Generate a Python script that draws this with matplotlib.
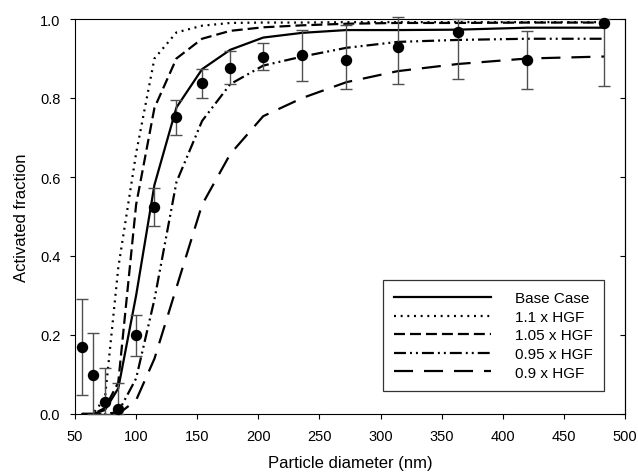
import matplotlib
matplotlib.use("Agg")
import matplotlib.pyplot as plt
import numpy as np

plt.rcParams['font.family'] = ['Liberation Sans', 'DejaVu Sans']
plt.rcParams['lines.scale_dashes'] = False

# Measured data
diam_obs = [56, 64.5, 74.5, 85.4, 100, 115, 133, 154, 177, 204, 236, 272, 314, 363, 420, 483]
af_obs = [0.170, 0.099, 0.030, 0.013, 0.200, 0.525, 0.751, 0.837, 0.876, 0.905, 0.909, 0.897, 0.930, 0.966, 0.895, 0.990]
err_lo = [0.049, 0.000, 0.000, 0.000, 0.148, 0.475, 0.706, 0.800, 0.835, 0.871, 0.842, 0.823, 0.836, 0.848, 0.822, 0.830]
err_hi = [0.291, 0.204, 0.116, 0.078, 0.251, 0.572, 0.796, 0.873, 0.920, 0.938, 0.973, 0.985, 1.004, 1.000, 0.970, 1.000]

# Model curves
diam_mod = [56, 64.5, 74.5, 85.4, 100, 115, 133, 154, 177, 204, 236, 272, 314, 363, 420, 483]
base_case = [0.0, 0.0, 0.010, 0.065, 0.300, 0.580, 0.776, 0.873, 0.922, 0.953, 0.965, 0.972, 0.972, 0.973, 0.978, 0.978]
hgf_110 = [0.0, 0.0, 0.040, 0.370, 0.660, 0.900, 0.966, 0.983, 0.990, 0.991, 0.991, 0.992, 0.992, 0.992, 0.992, 0.992]
hgf_105 = [0.0, 0.0, 0.015, 0.080, 0.530, 0.775, 0.900, 0.950, 0.970, 0.979, 0.984, 0.988, 0.990, 0.990, 0.991, 0.991]
hgf_095 = [0.0, 0.0, 0.0, 0.005, 0.090, 0.290, 0.587, 0.742, 0.835, 0.882, 0.905, 0.927, 0.942, 0.947, 0.950, 0.950]
hgf_090 = [0.0, 0.0, 0.0, 0.0, 0.035, 0.140, 0.320, 0.530, 0.658, 0.754, 0.800, 0.840, 0.868, 0.886, 0.900, 0.905]

labels = ['Base Case', '1.1 x HGF', '1.05 x HGF', '0.95 x HGF', '0.9 x HGF']
xticks = [50, 100, 150, 200, 250, 300, 350, 400, 450, 500]
yticks = [0.0, 0.2, 0.4, 0.6, 0.8, 1.0]

fig = plt.figure(figsize=(6.38, 4.77), dpi=100)
ax = fig.add_axes([75/638, 1-415/477, 550/638, 395/477])

lw = 1.6
ax.plot(diam_mod, base_case, color='black', lw=lw, linestyle='-', label=labels[0], zorder=3)
ax.plot(diam_mod, hgf_110, color='black', lw=lw, linestyle=(0, (1.4, 3.4)), label=labels[1], zorder=3)
ax.plot(diam_mod, hgf_105, color='black', lw=lw, linestyle=(0, (7.9, 3.6)), label=labels[2], zorder=3)
ax.plot(diam_mod, hgf_095, color='black', lw=lw, linestyle=(0, (8.6, 2.9, 1.4, 2.9, 1.4, 2.9)), label=labels[3], zorder=3)
ax.plot(diam_mod, hgf_090, color='black', lw=lw, linestyle=(0, (13.7, 7.9)), label=labels[4], zorder=3)

yerr = [np.array(af_obs) - np.array(err_lo), np.array(err_hi) - np.array(af_obs)]
ax.errorbar(diam_obs, af_obs, yerr=yerr, fmt='none', ecolor='#505050', elinewidth=1.0,
            capsize=4, capthick=1.0, zorder=4, clip_on=False)
ax.plot(diam_obs, af_obs, 'o', color='black', markersize=7.2, zorder=5, clip_on=False)

ax.set_xlim(50, 500)
ax.set_ylim(0, 1.0)
ax.set_xticks(xticks)
ax.set_yticks(yticks)
ax.set_yticklabels([f"{v:.1f}" for v in yticks])
ax.tick_params(axis='both', direction='out', length=3.6, width=0.8, labelsize=10.5,
               colors='black', pad=7)
for spine in ax.spines.values():
    spine.set_linewidth(0.8)
    spine.set_color('black')

# Right-hand inward ticks, no labels
sec = ax.secondary_yaxis('right')
sec.set_yticks(yticks)
sec.tick_params(axis='y', direction='in', length=3.6, width=0.8, labelright=False)
sec.spines['right'].set_linewidth(0.8)

ax.set_xlabel('Particle diameter (nm)', fontsize=12, labelpad=9)
ax.set_ylabel('Activated fraction', fontsize=12, labelpad=8)

leg = ax.legend(loc='lower right', bbox_to_anchor=(0.962, 0.058), frameon=True, fancybox=False,
                edgecolor='black', fontsize=11, handlelength=6.35, handletextpad=1.55,
                labelspacing=0.3, borderpad=0.75, borderaxespad=0.0)
leg.get_frame().set_linewidth(0.9)
leg.set_zorder(6)

fig.savefig('out.png', dpi=100)
